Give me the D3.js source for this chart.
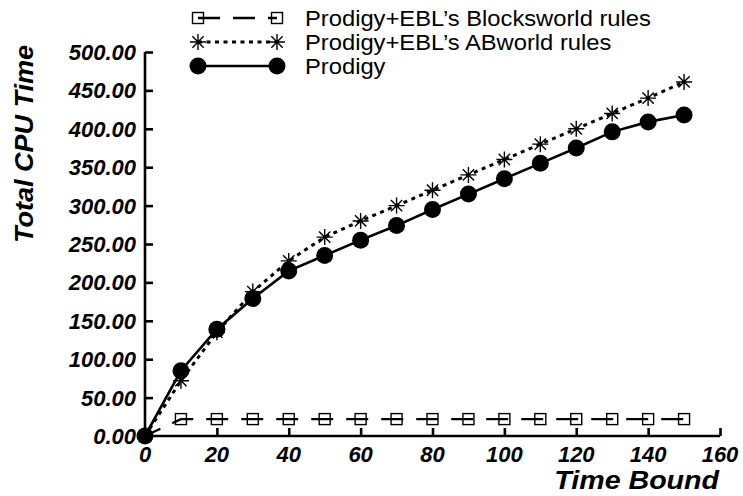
<!DOCTYPE html>
<html>
<head>
<meta charset="utf-8">
<script src="https://cdn.jsdelivr.net/npm/d3@7"></script>
<style>
  html, body { margin: 0; padding: 0; background: #fff; }
  svg { display: block; }
  text { fill: #000; }
</style>
</head>
<body>
<svg id="chart" width="743" height="496"></svg>
<script>
// Time bound (x) for every measured run
const timeBounds = [0, 10, 20, 30, 40, 50, 60, 70, 80, 90, 100, 110, 120, 130, 140, 150];

// Total CPU time per series
const blocksworldCpu = [0, 22, 22, 22, 22, 22, 22, 22, 22, 22, 22, 22, 22, 22, 22, 22];
const abworldCpu     = [0, 72, 135, 188, 228, 259, 280, 300, 320, 340, 360, 380, 400, 420, 440, 461];
const prodigyCpu     = [0, 85, 139, 179, 215, 235, 255, 274, 295, 315, 335, 355, 375, 396, 409, 418];

const seriesNames = [
  "Prodigy+EBL\u2019s Blocksworld rules",
  "Prodigy+EBL\u2019s ABworld rules",
  "Prodigy"
];

// Tick values
const xTicks = [0, 20, 40, 60, 80, 100, 120, 140, 160];
const yTicks = [0, 50, 100, 150, 200, 250, 300, 350, 400, 450, 500];

const xTitle = "Time Bound";
const yTitle = "Total CPU Time";

const svg = d3.select("#chart");
const font = "'Liberation Sans', Arial, Helvetica, sans-serif";

const x = d3.scaleLinear().domain([0, 160]).range([145, 720]);
const y = d3.scaleLinear().domain([0, 500]).range([436, 52]);

// Axes: ticks point inward, labels drawn separately
const xAxis = svg.append("g").attr("transform", `translate(0,${y(0)})`)
  .call(d3.axisTop(x).tickValues(xTicks).tickSize(8).tickFormat(""));
const yAxis = svg.append("g").attr("transform", `translate(${x(0)},0)`)
  .call(d3.axisRight(y).tickValues(yTicks).tickSize(8).tickFormat(""));
[xAxis, yAxis].forEach(g => {
  g.select(".domain").attr("stroke", "#000").attr("stroke-width", 2.6);
  g.selectAll(".tick line").attr("stroke", "#000").attr("stroke-width", 2.6);
});
// plain domain lines without the outer tick segments
xAxis.select(".domain").attr("d", `M${x(0)},0H${x(160)}`);
yAxis.select(".domain").attr("d", `M0,${y(0)}V${y(500)}`);

// Tick labels
svg.append("g").selectAll("text").data(xTicks).join("text")
  .attr("x", d => x(d)).attr("y", 462)
  .attr("text-anchor", "middle")
  .style("font", `italic bold 22px ${font}`)
  .text(d => d);

svg.append("g").selectAll("text").data(yTicks).join("text")
  .attr("x", 136).attr("y", d => y(d)).attr("dy", "0.36em")
  .attr("text-anchor", "end")
  .style("font", `italic bold 22px ${font}`)
  .text(d => d3.format(".2f")(d));

// Axis titles
svg.append("text")
  .attr("transform", "translate(719,489) scale(1.1,1)")
  .attr("text-anchor", "end")
  .style("font", `italic bold 26px ${font}`)
  .text(xTitle);

svg.append("text")
  .attr("transform", "translate(33,144) rotate(-90) scale(1.04,1)")
  .attr("text-anchor", "middle")
  .style("font", `italic bold 26px ${font}`)
  .text(yTitle);

// Marker drawers
function squareMarker(g, cx, cy) {
  g.append("rect").attr("x", cx - 5.5).attr("y", cy - 5.5)
    .attr("width", 11).attr("height", 11)
    .attr("fill", "none").attr("stroke", "#000").attr("stroke-width", 1.4);
}
function starMarker(g, cx, cy) {
  const r = 8;
  const p = d3.path();
  for (let k = 0; k < 4; k++) {
    const a = k * Math.PI / 4;
    p.moveTo(cx + r * Math.cos(a), cy + r * Math.sin(a));
    p.lineTo(cx - r * Math.cos(a), cy - r * Math.sin(a));
  }
  g.append("path").attr("d", p.toString())
    .attr("stroke", "#000").attr("stroke-width", 1.4).attr("fill", "none");
}
function circleMarker(g, cx, cy) {
  g.append("circle").attr("cx", cx).attr("cy", cy).attr("r", 8.5).attr("fill", "#000");
}

const series = [
  { name: seriesNames[0], values: blocksworldCpu, dash: "22,13", width: 2.4, marker: squareMarker, offset: 5 },
  { name: seriesNames[1], values: abworldCpu,     dash: "4,4.5", width: 3,   marker: starMarker,   offset: 0 },
  { name: seriesNames[2], values: prodigyCpu,     dash: null,    width: 2.6, marker: circleMarker, offset: 0 }
];

const line = d3.line().x(d => x(d[0])).y(d => y(d[1]));

series.forEach(s => {
  const pts = timeBounds.map((t, i) => [t, s.values[i]]);
  const g = svg.append("g");
  g.append("path").datum(pts).attr("d", line)
    .attr("fill", "none").attr("stroke", "#000").attr("stroke-width", s.width)
    .attr("stroke-dasharray", s.dash).attr("stroke-dashoffset", s.offset);
  pts.forEach(p => s.marker(g, x(p[0]), y(p[1])));
});

// Legend
const legendRows = [18, 42, 66];
series.forEach((s, i) => {
  const g = svg.append("g");
  const ly = legendRows[i];
  g.append("line").attr("x1", 198).attr("x2", 277).attr("y1", ly).attr("y2", ly)
    .attr("stroke", "#000").attr("stroke-width", s.width)
    .attr("stroke-dasharray", s.dash);
  s.marker(g, 198, ly);
  s.marker(g, 277, ly);
  g.append("text")
    .attr("transform", `translate(305,${ly}) scale(1.08,1)`)
    .attr("dy", "0.36em")
    .style("font", `22px ${font}`)
    .text(s.name);
});
</script>
</body>
</html>
